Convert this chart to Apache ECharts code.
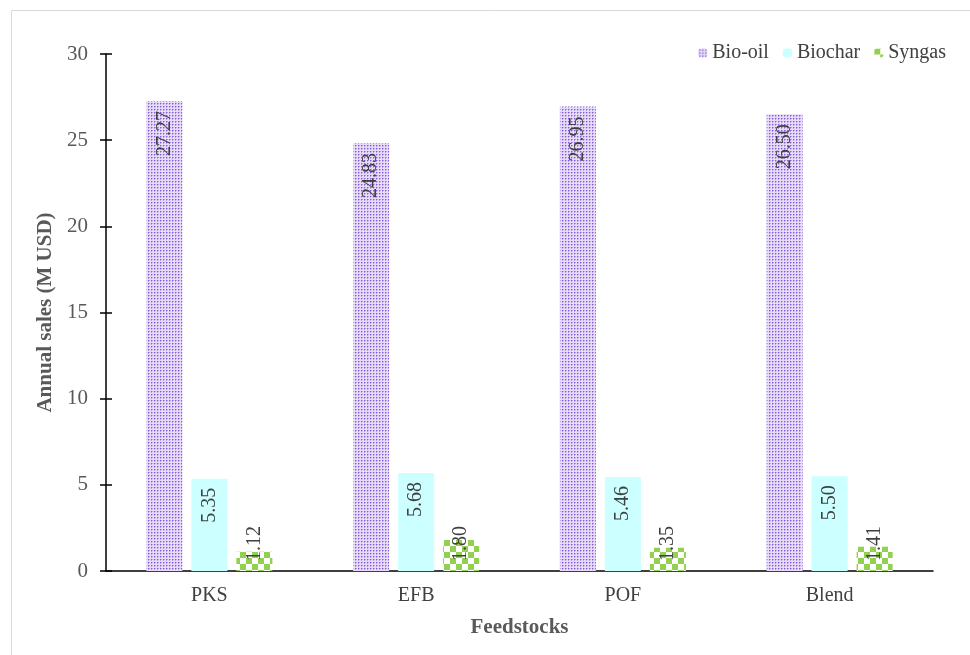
<!DOCTYPE html>
<html>
<head>
<meta charset="utf-8">
<script src="https://cdn.jsdelivr.net/npm/echarts@6/dist/echarts.min.js"></script>
<style>
  html, body { margin: 0; padding: 0; background: #fff; }
  #chart { width: 970px; height: 655px; }
</style>
</head>
<body>
<div id="chart"></div>
<script>
// Annual sales by product for each feedstock (million USD)
const categories = ['PKS', 'EFB', 'POF', 'Blend'];
const bioOil = [27.27, 24.83, 26.95, 26.50];
const biochar = [5.35, 5.68, 5.46, 5.50];
const syngas = [1.12, 1.80, 1.35, 1.41];
const yTicks = [0, 5, 10, 15, 20, 25, 30];

// Fill patterns: dotted lavender for bio-oil, green checkerboard for syngas
function dotPattern() {
  const c = document.createElement('canvas');
  c.width = 3; c.height = 3;
  const g = c.getContext('2d');
  g.fillStyle = '#e6dcf8';
  g.fillRect(0, 0, 3, 3);
  g.fillStyle = '#8a5ad8';
  g.fillRect(1, 1, 1, 1);
  g.fillStyle = '#b79ded';
  g.fillRect(2, 1, 1, 1);
  g.fillRect(1, 2, 1, 1);
  return c;
}
function checkerPattern() {
  const c = document.createElement('canvas');
  c.width = 12; c.height = 12;
  const g = c.getContext('2d');
  g.fillStyle = '#ffffff';
  g.fillRect(0, 0, 12, 12);
  g.fillStyle = '#92d050';
  g.fillRect(0, 0, 6, 6);
  g.fillRect(6, 6, 6, 6);
  return c;
}

const serif = 'Liberation Serif';
const labelBase = {
  show: true,
  rotate: 90,
  fontFamily: serif,
  fontSize: 20,
  color: '#404040',
  verticalAlign: 'middle',
  formatter: p => p.value.toFixed(2)
};

const chart = echarts.init(document.getElementById('chart'), null, { renderer: 'canvas' });
chart.setOption({
  backgroundColor: '#ffffff',
  animation: false,
  graphic: [{
    type: 'rect',
    shape: { x: 11.5, y: 10.5, width: 980, height: 700 },
    style: { fill: 'none', stroke: '#d9d9d9', lineWidth: 1 },
    silent: true,
    z: -1
  }],
  legend: {
    right: 19,
    top: 38,
    itemWidth: 9,
    itemHeight: 9,
    itemGap: 14,
    textStyle: { fontFamily: serif, fontSize: 20, color: '#404040' },
    data: ['Bio-oil', 'Biochar', 'Syngas']
  },
  grid: { left: 106, right: 37, top: 54, bottom: 84, containLabel: false },
  xAxis: {
    type: 'category',
    data: categories,
    axisLine: { lineStyle: { color: '#000', width: 1.5 } },
    axisTick: { show: false },
    axisLabel: { fontFamily: serif, fontSize: 20, color: '#404040', margin: 15 },
    name: 'Feedstocks',
    nameLocation: 'middle',
    nameGap: 46,
    nameTextStyle: { fontFamily: serif, fontSize: 21, fontWeight: 'bold', color: '#595959' }
  },
  yAxis: [{
    type: 'value',
    min: yTicks[0],
    max: yTicks[yTicks.length - 1],
    interval: 5,
    axisLine: { show: true, lineStyle: { color: '#000', width: 1.5 } },
    axisTick: { show: true, length: 6, lineStyle: { color: '#000', width: 1.5 } },
    splitLine: { show: false },
    axisLabel: { fontFamily: serif, fontSize: 21, color: '#595959', margin: 18 },
    name: 'Annual sales (M USD)',
    nameLocation: 'middle',
    nameGap: 48,
    nameTextStyle: { fontFamily: serif, fontSize: 21, fontWeight: 'bold', color: '#595959' }
  }, {
    type: 'value',
    position: 'left',
    min: yTicks[0],
    max: yTicks[yTicks.length - 1],
    interval: 5,
    axisLine: { show: false },
    axisTick: { show: true, inside: true, length: 6, lineStyle: { color: '#000', width: 1.5 } },
    axisLabel: { show: false },
    splitLine: { show: false }
  }],
  series: [{
    name: 'Bio-oil',
    type: 'bar',
    data: bioOil,
    barWidth: 36,
    barGap: '25%',
    itemStyle: { color: { image: dotPattern(), repeat: 'repeat' } },
    label: Object.assign({}, labelBase, { position: 'insideTop', align: 'right', distance: 10 })
  }, {
    name: 'Biochar',
    type: 'bar',
    data: biochar,
    barWidth: 36,
    barGap: '25%',
    itemStyle: { color: '#ccffff' },
    label: Object.assign({}, labelBase, { position: 'insideTop', align: 'right', distance: 9 })
  }, {
    name: 'Syngas',
    type: 'bar',
    data: syngas,
    barWidth: 36,
    barGap: '25%',
    itemStyle: { color: { image: checkerPattern(), repeat: 'repeat' } },
    label: Object.assign({}, labelBase, { position: 'insideBottom', align: 'left', distance: 10 })
  }]
});
</script>
</body>
</html>
